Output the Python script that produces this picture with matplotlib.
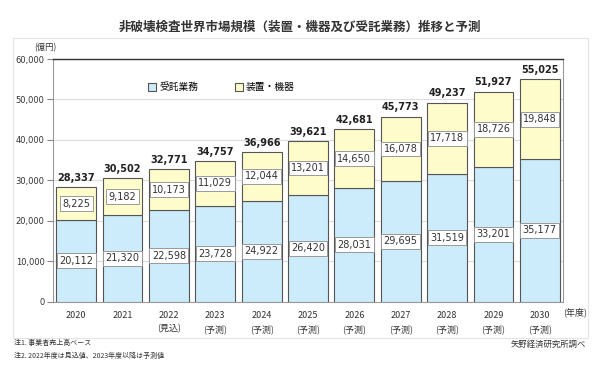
import matplotlib.pyplot as plt
import numpy as np
from matplotlib.patches import Rectangle

plt.rcParams['font.family'] = ['Noto Sans CJK JP', 'DejaVu Sans']

# ── DATA ──────────────────────────────────────────────
years    = ['2020', '2021', '2022', '2023', '2024', '2025', '2026', '2027', '2028', '2029', '2030']
notes    = ['', '', '(見込)', '(予測)', '(予測)', '(予測)', '(予測)', '(予測)', '(予測)', '(予測)', '(予測)']
service  = [20112, 21320, 22598, 23728, 24922, 26420, 28031, 29695, 31519, 33201, 35177]
devices  = [8225, 9182, 10173, 11029, 12044, 13201, 14650, 16078, 17718, 18726, 19848]
totals   = [28337, 30502, 32771, 34757, 36966, 39621, 42681, 45773, 49237, 51927, 55025]

# ── COLORS ────────────────────────────────────────────
c_service = '#CCEBFB'
c_devices = '#FFFCCB'
c_edge    = '#555555'

fig = plt.figure(figsize=(6, 3.77), dpi=100)
ax = fig.add_axes([53/600, 1 - 301.5/377, 510/600, 242.5/377])

x = np.arange(len(years))
width = 0.86

ax.bar(x, service, width, color=c_service, edgecolor=c_edge, linewidth=0.8, label='受託業務', zorder=3)
ax.bar(x, devices, width, bottom=service, color=c_devices, edgecolor=c_edge, linewidth=0.8,
       label='装置・機器', zorder=3)

box = dict(boxstyle='square,pad=0.25', fc='white', ec='#999999', lw=0.7)
for i in range(len(years)):
    ax.text(x[i], service[i] / 2, f'{service[i]:,}', ha='center', va='center',
            fontsize=7, color='#333333', bbox=box, zorder=4, family='DejaVu Sans')
    ax.text(x[i], service[i] + devices[i] / 2, f'{devices[i]:,}', ha='center', va='center',
            fontsize=7, color='#333333', bbox=box, zorder=4, family='DejaVu Sans')
    ax.annotate(f'{totals[i]:,}', xy=(x[i], totals[i]), xytext=(0, 3),
                textcoords='offset points', ha='center', va='bottom',
                fontsize=7, fontweight='bold', color='#222222', family='DejaVu Sans')

ax.set_xlim(-0.5, len(years) - 0.5)
ax.set_ylim(0, 60000)
ax.set_yticks(np.arange(0, 60001, 10000))
ax.set_yticklabels([f'{v:,}' for v in range(0, 60001, 10000)], fontsize=6, color='#333333',
                   family='DejaVu Sans')
ax.set_xticks(x)
ax.set_xticklabels([f'{y}\n{n}' if n else y for y, n in zip(years, notes)],
                   fontsize=6.5, color='#333333', va='top', linespacing=1.5)
ax.tick_params(axis='x', length=0, pad=7)
ax.tick_params(axis='y', length=4, color='#888888', direction='out', pad=2)
ax.yaxis.grid(True, color='#DDDDDD', linewidth=0.8, zorder=0)
ax.set_axisbelow(True)
for side in ['left', 'right', 'bottom']:
    ax.spines[side].set_color('#999999')
    ax.spines[side].set_linewidth(0.8)
ax.spines['top'].set_color('#333333')
ax.spines['top'].set_linewidth(1.0)

ax.legend(loc='upper left', bbox_to_anchor=(0.17, 0.94), ncol=2, frameon=False,
          fontsize=7, handlelength=0.8, handleheight=0.8, columnspacing=3.8, handletextpad=0.3)

# texts around the axes
fig.text(0.5, 1 - 27/377, '非破壊検査世界市場規模（装置・機器及び受託業務）推移と予測',
         ha='center', va='center', fontsize=9, fontweight='bold', color='#333333')
fig.text(45/600, 1 - 48/377, '(億円)', ha='center', va='center', fontsize=6, color='#333333')
fig.text(575/600, 1 - 312/377, '(年度)', ha='center', va='center', fontsize=6.5, color='#333333')
fig.text(14/600, 1 - 343/377, '注1. 事業者売上高ベース', ha='left', va='center', fontsize=5, color='#333333')
fig.text(14/600, 1 - 356/377, '注2. 2022年度は見込値、2023年度以降は予測値', ha='left', va='center',
         fontsize=5, color='#333333')
fig.text(586/600, 1 - 344/377, '矢野経済研究所調べ', ha='right', va='center', fontsize=6, color='#333333')

# light panel frame
fig.patches.append(Rectangle((13/600, 1 - 338/377), 575/600, 300/377, transform=fig.transFigure,
                             fill=False, ec='#E4E4E4', lw=0.8))

fig.savefig('out.png', dpi=100)
